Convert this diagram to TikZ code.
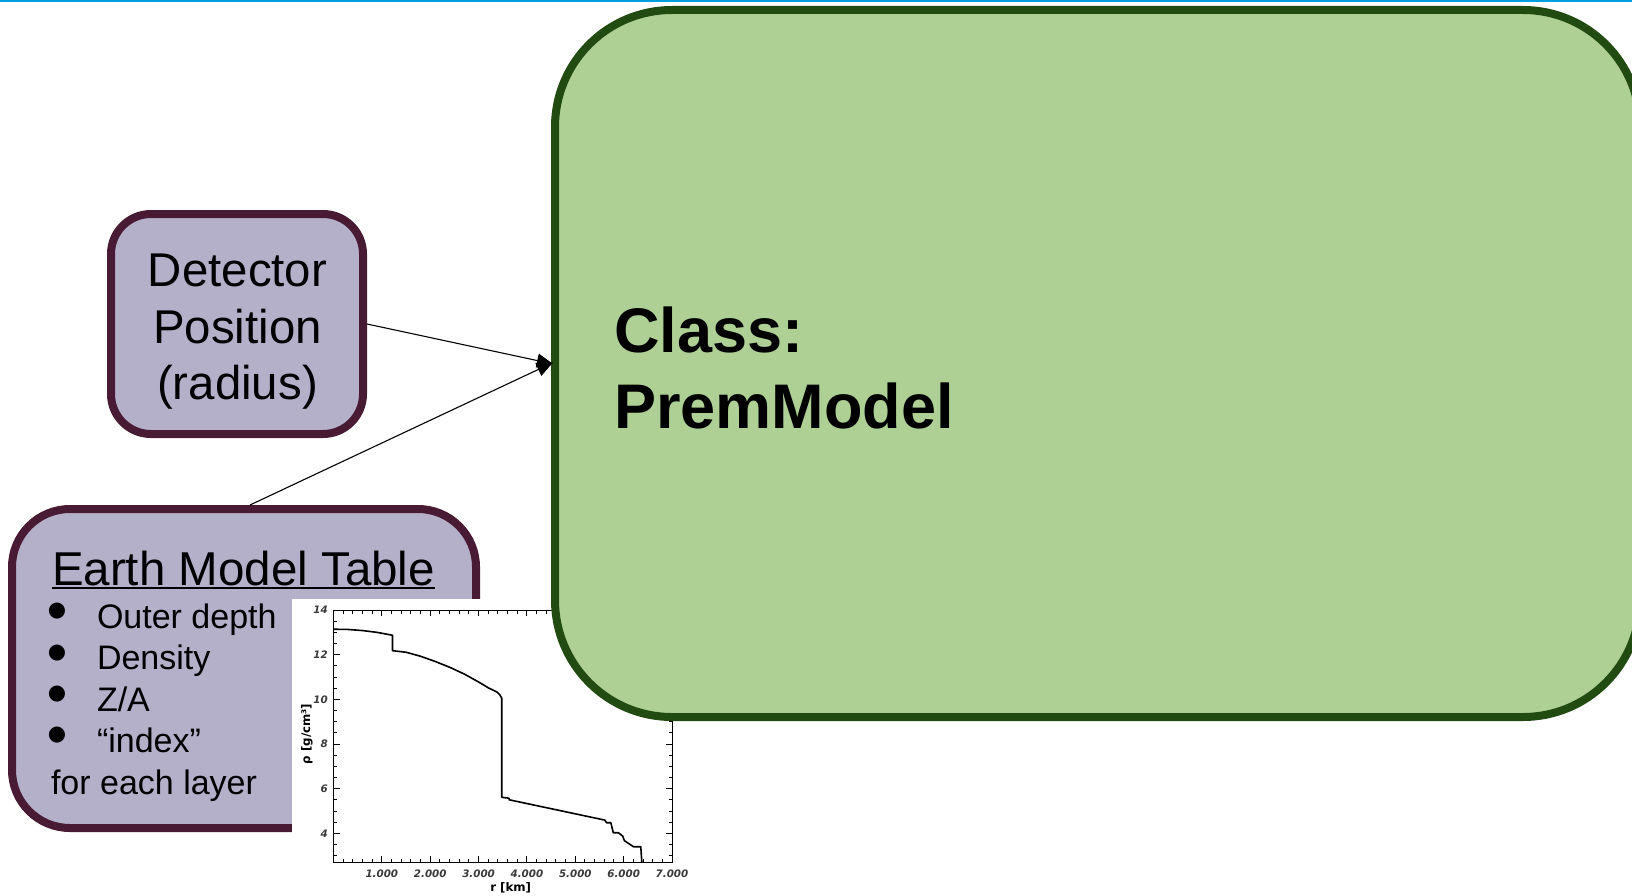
\documentclass[tikz,border=0pt]{standalone}
\usepackage{fontspec}
\setmainfont{Liberation Sans}
\newfontfamily\plotfont{DejaVu Sans}
\usetikzlibrary{arrows.meta}

\definecolor{lavfill}{HTML}{B5B0CA}
\definecolor{lavline}{HTML}{481A33}
\definecolor{grnfill}{HTML}{AFD095}
\definecolor{grnline}{HTML}{224B12}
\definecolor{topblue}{HTML}{009FDF}
\definecolor{ticktext}{HTML}{3A3A3A}

\tikzset{
  inbox/.style={rectangle, draw=lavline, fill=lavfill, line width=8pt, inner sep=0pt},
  classbox/.style={rectangle, draw=grnline, fill=grnfill, line width=8pt, inner sep=0pt,
                   rounded corners=117pt},
  txt/.style={inner sep=0pt, outer sep=0pt, anchor=base},
  bigtxt/.style={txt, font=\fontsize{47.4}{56}\selectfont},
  listtxt/.style={txt, anchor=base west, font=\fontsize{34}{41}\selectfont},
  bullet/.style={inner sep=0pt, outer sep=0pt, anchor=center, font=\plotfont\fontsize{21}{22}\selectfont},
  classtxt/.style={txt, anchor=base west, font=\fontsize{63}{76}\selectfont\bfseries},
  feed/.style={line width=1.1pt, -{Triangle[length=16pt,width=14pt]}, shorten >=-2pt},
  ticklabel/.style={inner sep=0pt, text=ticktext, font=\plotfont\bfseries\itshape\fontsize{10.3}{12}\selectfont},
  axislabel/.style={inner sep=0pt, font=\plotfont\bfseries\fontsize{11.8}{13}\selectfont},
  frameline/.style={line width=1pt},
  curve/.style={line width=1.6pt, line join=round}
}

\begin{document}
\begin{tikzpicture}[x=1pt,y=-1pt]
\useasboundingbox (0,0) rectangle (1632,896);
\clip (0,0) rectangle (1632,896);
\fill[white] (0,0) rectangle (1632,896);

% header rule
\draw[topblue, line width=2pt] (0,1) -- (1632,1);

% detector position input
\node[inbox, rounded corners=40pt, minimum width=252pt, minimum height=220pt] (det) at (237,324) {};
\node[bigtxt] (det1) at (237.5,286.3) {Detector};
\node[bigtxt] (det2) at (237.5,343) {Position};
\node[bigtxt] (det3) at (237.5,399.7) {(radius)};

% earth model table input
\node[inbox, rounded corners=58pt, minimum width=464pt, minimum height=319pt] (earth) at (244,668.5) {};
\node[txt, anchor=base west, font=\fontsize{47.5}{56}\selectfont] (ttl) at (52,585) {Earth Model Table};
\draw[line width=2.5pt] ([yshift=-3pt]ttl.base west) -- ([yshift=-3pt]ttl.base east);
\node[bullet] (b1) at (57,611.5) {●};
\node[bullet] (b2) at (57,652.8) {●};
\node[bullet] (b3) at (57,694) {●};
\node[bullet] (b4) at (57,735.5) {●};
\node[listtxt] (l1) at (97,628) {Outer depth};
\node[listtxt] (l2) at (97,669.5) {Density};
\node[listtxt] (l3) at (97,711) {Z/A};
\node[listtxt] (l4) at (97,752.5) {“index”};
\node[listtxt] (l5) at (51,794) {for each layer};

% density profile plot
\fill[white] (292,599) rectangle (720,896);
\begin{scope}[xshift=333.5pt, yshift=-922.9pt, x=48.36pt, y=22.35pt]
  \draw[frameline] (0,2.725) rectangle (7,14);
  % minor ticks
  \foreach \r in {0.2,0.4,...,6.9} {
    \draw[frameline] (\r,2.725) -- ++(0,3.5pt);
    \draw[frameline] (\r,14) -- ++(0,-3.5pt);
  }
  \foreach \v in {3,3.5,...,13.9} {
    \draw[frameline] (0,\v) -- ++(3.5pt,0);
    \draw[frameline] (7,\v) -- ++(-3.5pt,0);
  }
  % major ticks
  \foreach \r in {1,...,6} {
    \draw[frameline] (\r,2.725) -- ++(0,6pt);
    \draw[frameline] (\r,14) -- ++(0,-6pt);
  }
  \foreach \v in {4,6,...,12} {
    \draw[frameline] (0,\v) -- ++(6pt,0);
    \draw[frameline] (7,\v) -- ++(-6pt,0);
  }
  % tick labels
  \foreach \r in {1,...,7}
    \node[ticklabel, anchor=base] (xl\r) at ([yshift=-15.5pt]\r,2.725) {\r.000};
  \foreach \v in {4,6,...,14}
    \node[ticklabel, anchor=east] (yl\v) at ([xshift=-5.5pt]0,\v) {\v};
  % density curve
  \draw[curve] (0,13.14) -- (0.3,13.13) -- (0.6,13.08) -- (0.9,13.0) -- (1.22,12.87)
    -- (1.22,12.18) -- (1.5,12.11) -- (1.8,11.93) -- (2.1,11.70) -- (2.4,11.44)
    -- (2.7,11.14) -- (3.0,10.78) -- (3.2,10.52) -- (3.38,10.33) -- (3.44,10.20)
    -- (3.48,10.05) -- (3.48,5.62) -- (3.63,5.58) -- (3.63,5.51) -- (5.61,4.60)
    -- (5.646,4.483) -- (5.735,4.483) -- (5.785,4.036) -- (5.89,4.036) -- (5.979,3.888)
    -- (6.015,3.678) -- (6.098,3.561) -- (6.202,3.409) -- (6.354,3.409) -- (6.375,2.725);
\end{scope}
\node[axislabel, anchor=base] (xlab) at (510.7,891.7) {r [km]};
\node[axislabel, rotate=90] (ylab) at (307,734) {ρ [g/cm³]};

% PremModel class
\node[classbox, minimum width=1085pt, minimum height=707pt] (cls) at (1097.5,363.5) {};
\node[classtxt] (cls1) at (614,352) {Class:};
\node[classtxt] (cls2) at (614,428) {PremModel};

% inputs feeding the class
\draw[feed] (det.east) -- (cls.west);
\draw[feed] ([xshift=6pt]earth.north) -- (cls.west);
\end{tikzpicture}
\end{document}
